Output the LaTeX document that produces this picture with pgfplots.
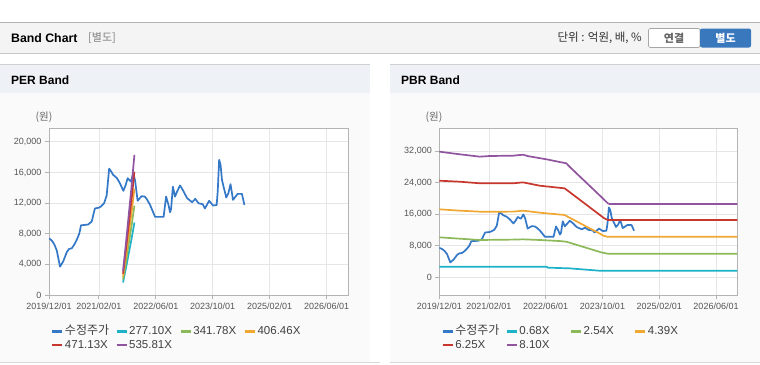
\documentclass[border=0pt]{standalone}
\usepackage{pgfplots}
\pgfplotsset{compat=1.18}
\usepackage{fontspec}
\setmainfont{Liberation Sans}
\newfontfamily\kr{Noto Sans CJK KR}
\definecolor{cStock}{RGB}{52,120,200}
\definecolor{cCyan}{RGB}{30,178,200}
\definecolor{cGreen}{RGB}{140,185,90}
\definecolor{cOrange}{RGB}{240,168,50}
\definecolor{cRed}{RGB}{200,55,45}
\definecolor{cPurple}{RGB}{145,85,160}
\definecolor{hdrbg}{RGB}{244,244,244}
\definecolor{panelhd}{RGB}{238,241,246}
\definecolor{panelbd}{RGB}{250,250,250}
\definecolor{gridc}{RGB}{230,230,230}
\definecolor{axc}{RGB}{180,180,180}
\definecolor{tickc}{RGB}{85,85,85}
\definecolor{btnblue}{RGB}{58,120,190}

\pgfplotsset{
  bandaxis/.style={
    scale only axis, height=167pt, anchor=south west,
    xmin=0, xmax=84,
    xtick={0,14,30,46,62,78},
    xticklabels={2019/12/01,2021/02/01,2022/06/01,2023/10/01,2025/02/01,2026/06/01},
    grid=major, major grid style={color=gridc, line width=0.6pt},
    axis line style={color=axc, line width=0.9pt},
    tick style={color=axc, line width=0.7pt},
    tick align=outside, major tick length=4pt,
    xtick pos=bottom, ytick pos=left,
    ticklabel style={font=\fontsize{9}{10}\selectfont, text=tickc},
    /pgf/number format/assume math mode=true,
    /pgf/number format/1000 sep={,},
    scaled y ticks=false,
    axis background/.style={fill=white},
    every axis plot/.append style={line width=1.7pt, line join=round, mark=none},
    legend columns=4,
    legend cell align=left,
    legend image code/.code={\draw[##1, line width=2.2pt, line cap=butt] (0pt,0pt) -- (10pt,0pt);},
    legend style={draw=none, fill=none, inner sep=0pt,
      font=\fontsize{11.5}{12}\selectfont, text=black!75,
      nodes={text height=9pt, text depth=2.3pt, inner xsep=1.5pt, inner ysep=1pt}},
  }
}

\begin{document}
\begin{tikzpicture}
\path[use as bounding box, fill=white] (0pt,0pt) rectangle (760pt,-364pt);
% top header bar
\fill[hdrbg] (0pt,-22pt) rectangle (760pt,-53pt);
\draw[color=black!30, line width=0.8pt] (0pt,-22.4pt) -- (760pt,-22.4pt);
\draw[color=black!22, line width=1pt] (0pt,-53pt) -- (760pt,-53pt);
\node[anchor=west, inner sep=0pt, font=\fontsize{12.3}{14}\selectfont\bfseries] at (11pt,-38pt) {Band Chart};
\node[anchor=west, inner sep=0pt, text=black!50, font=\kr\fontsize{11}{13}\selectfont] at (88pt,-38pt) {[별도]};
\node[anchor=east, inner sep=0pt, text=black!80, font=\kr\fontsize{11.5}{13}\selectfont] at (642pt,-38pt) {단위 : 억원, 배, \%};
\draw[fill=white, draw=black!35, rounded corners=2pt, line width=0.7pt] (648.5pt,-28.5pt) rectangle (700pt,-47.5pt);
\node[inner sep=0pt, text=black!60, font=\kr\bfseries\fontsize{11}{13}\selectfont] at (674pt,-38pt) {연결};
\fill[btnblue, rounded corners=2pt] (700pt,-28.5pt) rectangle (751pt,-47.5pt);
\node[inner sep=0pt, text=white, font=\kr\bfseries\fontsize{11}{13}\selectfont] at (725.5pt,-38pt) {별도};

% left panel
\fill[panelbd] (0pt,-64pt) rectangle (370pt,-362pt);
\fill[panelhd] (0pt,-64pt) rectangle (370pt,-93pt);
\draw[color=black!18, line width=0.8pt] (0pt,-64.3pt) -- (370pt,-64.3pt);
\draw[color=black!15, line width=0.8pt] (0pt,-362.7pt) -- (380pt,-362.7pt);
\node[anchor=west, inner sep=0pt, font=\fontsize{12}{14}\selectfont\bfseries] at (11pt,-80.5pt) {PER Band};
\node[inner sep=0pt, text=black!60, font=\kr\fontsize{10.5}{12}\selectfont] at (44pt,-117pt) {(원)};

% right panel
\fill[panelbd] (390pt,-64pt) rectangle (760pt,-362pt);
\fill[panelhd] (390pt,-64pt) rectangle (760pt,-93pt);
\draw[color=black!18, line width=0.8pt] (390pt,-64.3pt) -- (760pt,-64.3pt);
\draw[color=black!15, line width=0.8pt] (390pt,-362.7pt) -- (760pt,-362.7pt);
\node[anchor=west, inner sep=0pt, font=\fontsize{12}{14}\selectfont\bfseries] at (401pt,-80.5pt) {PBR Band};
\node[inner sep=0pt, text=black!60, font=\kr\fontsize{10.5}{12}\selectfont] at (434pt,-117pt) {(원)};

%%%%% PER axis
\begin{axis}[bandaxis, at={(49pt,-295pt)}, width=299pt,
  ymin=0, ymax=21800, ytick={0,4000,8000,12000,16000,20000},
  legend style={at={(0.007,-0.177)}, anchor=north west}]
\addplot[color=cStock] coordinates {
(0,7400) (0.8,7100) (1.5,6600) (2.2,5800) (3.1,3700) (4.0,4400) (5.0,5600) (5.6,6000)
(6.4,6100) (7.0,6500) (7.8,7200) (8.5,8000) (9.0,9100) (10.0,9150) (11.0,9200) (12.0,9600)
(12.9,11300) (14.0,11400) (14.6,11550) (15.5,12000) (16.2,13000) (16.9,16500) (17.5,16100)
(18.0,15700) (19.0,15300) (19.8,14700) (20.9,13600) (21.5,14300) (22.1,15250) (23.0,14800)
(23.7,15900) (24.2,14900) (24.9,12300) (26.0,12900) (26.9,12850) (27.5,12500) (28.4,11760)
(29.8,10200) (31.0,10200) (32.2,10200) (32.9,12850) (33.6,11700) (34.0,10800) (34.3,11200)
(34.8,14150) (35.4,12850) (35.8,13300) (36.8,14300) (37.6,13700) (38.8,12640) (40.2,12110)
(41.1,12550) (42.0,11980) (43.2,11850) (43.8,11300) (45.0,12300) (46.1,11670) (47.1,11760)
(47.4,13500) (47.8,17650) (48.2,17000) (48.6,15000) (49.8,12720) (50.4,13300) (51.0,14470)
(51.7,12420) (53.0,13200) (54.2,13200) (54.9,11760)
};
\addlegendentry{{\kr\fontsize{12}{12}\selectfont 수정주가}}
\addplot[color=cCyan] coordinates {(20.8,1635) (21.6,3464) (22.4,5403) (23.2,7343) (24.0,9463)};
\addlegendentry{\makebox[49pt][l]{277.10X}}
\addplot[color=cGreen] coordinates {(20.8,2017) (21.6,4272) (22.4,6665) (23.2,9057) (24.0,11672)};
\addlegendentry{\makebox[49pt][l]{341.78X}}
\addplot[color=cOrange] coordinates {(20.8,2398) (21.6,5081) (22.4,7926) (23.2,10771) (24.0,13881)};
\addlegendentry{\makebox[49pt][l]{406.46X}}
\addplot[color=cRed] coordinates {(20.8,2780) (21.6,5889) (22.4,9187) (23.2,12485) (24.0,16089)};
\addlegendentry{\makebox[49pt][l]{471.13X}}
\addplot[color=cPurple] coordinates {(20.8,3161) (21.6,6698) (22.4,10448) (23.2,14199) (24.0,18298)};
\addlegendentry{\makebox[49pt][l]{535.81X}}
\end{axis}

%%%%% PBR axis
\begin{axis}[bandaxis, at={(439.3pt,-295pt)}, width=298pt,
  ymin=-4570, ymax=37840, ytick={0,8000,16000,24000,32000},
  legend style={at={(0.007,-0.177)}, anchor=north west}]
\addplot[color=cStock] coordinates {
(0,7400) (0.8,7100) (1.5,6600) (2.2,5800) (3.1,3700) (4.0,4400) (5.0,5600) (5.6,6000)
(6.4,6100) (7.0,6500) (7.8,7200) (8.5,8000) (9.0,9100) (10.0,9150) (11.0,9200) (12.0,9600)
(12.9,11300) (14.0,11400) (14.6,11550) (15.5,12000) (16.2,13000) (16.9,16500) (17.5,16100)
(18.0,15700) (19.0,15300) (19.8,14700) (20.9,13600) (21.5,14300) (22.1,15250) (23.0,14800)
(23.7,15900) (24.2,14900) (24.9,12300) (26.0,12900) (26.9,12850) (27.5,12500) (28.4,11760)
(29.8,10200) (31.0,10200) (32.2,10200) (32.9,12850) (33.6,11700) (34.0,10800) (34.3,11200)
(34.8,14150) (35.4,12850) (35.8,13300) (36.8,14300) (37.6,13700) (38.8,12640) (40.2,12110)
(41.1,12550) (42.0,11980) (43.2,11850) (43.8,11300) (45.0,12300) (46.1,11670) (47.1,11760)
(47.4,13500) (47.8,17650) (48.2,17000) (48.6,15000) (49.8,12720) (50.4,13300) (51.0,14470)
(51.7,12420) (53.0,13200) (54.2,13200) (54.9,11760)
};
\addlegendentry{{\kr\fontsize{12}{12}\selectfont 수정주가}}
\addplot[color=cCyan] coordinates {(0,2620) (30.2,2620) (30.6,2370) (36.7,2200) (45.1,1600) (84,1600)};
\addlegendentry{\makebox[49pt][l]{0.68X}}
\addplot[color=cGreen] coordinates {(0,10080) (5.8,9730) (11.4,9400) (20.8,9500) (23.6,9570) (28.3,9400) (33.9,9140) (35.8,8970) (45.6,6270) (47.5,5920) (84,5900)};
\addlegendentry{\makebox[49pt][l]{2.54X}}
\addplot[color=cOrange] coordinates {(0,17190) (5.8,16850) (11.4,16590) (20.8,16600) (23.6,16850) (28.3,16340) (35.3,15750) (36.2,15320) (46.5,10410) (47.5,10200) (84,10200)};
\addlegendentry{\makebox[49pt][l]{4.39X}}
\addplot[color=cRed] coordinates {(0,24460) (5.8,24200) (11.4,23800) (20.8,23800) (23.6,24040) (28.3,23190) (35.3,22520) (36.2,21930) (46.5,14910) (47.5,14480) (84,14480)};
\addlegendentry{\makebox[49pt][l]{6.25X}}
\addplot[color=cPurple] coordinates {(0,31830) (5.8,31160) (11.4,30560) (14.2,30730) (20.8,30810) (23.6,31060) (25,30700) (30.2,29890) (34.4,29120) (35.8,28880) (36.7,28020) (45.6,20390) (47.5,18720) (48,18540) (84,18540)};
\addlegendentry{\makebox[49pt][l]{8.10X}}
\end{axis}
\end{tikzpicture}
\end{document}
